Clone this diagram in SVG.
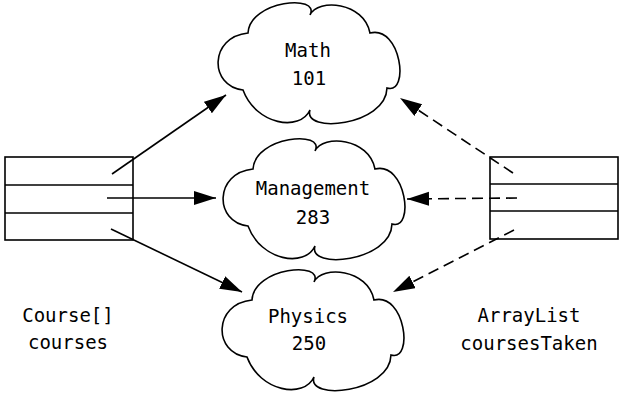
<svg xmlns="http://www.w3.org/2000/svg" width="624" height="393" viewBox="0 0 624 393">
<style>
.cloud{fill:#fff;stroke:#000;stroke-width:1.6}
.box{fill:#fff;stroke:#000;stroke-width:1.6}
.t{font-family:"DejaVu Sans Mono","Liberation Mono",monospace;font-size:19px;fill:#000;text-anchor:middle}
.c{stroke:#000;stroke-width:1.6;fill:none}
.d{stroke-dasharray:11 6}
</style>
<defs>
<path id="cl" d="M-60,-29 C-58,-62 13,-68 2,-47 C10,-64 56,-60 62,-29 C93,-37 102,33 79,26 C78,64 -6,72 2,48 C-8,70 -52,63 -65,28 C-99,24 -99,-25 -60,-29 Z"/>
<marker id="ah" markerUnits="userSpaceOnUse" markerWidth="24" markerHeight="16" refX="22" refY="7" orient="auto">
<path d="M0,0 L22,7 L0,14 Z" fill="#000"/>
</marker>
</defs>
<g id="math">
<use href="#cl" class="cloud" transform="translate(308,62)"/>
<text class="t" x="308" y="57">Math</text>
<text class="t" x="309" y="85">101</text>
</g>
<g id="management">
<use href="#cl" class="cloud" transform="translate(313,198)"/>
<text class="t" x="313" y="195">Management</text>
<text class="t" x="313" y="224">283</text>
</g>
<g id="physics">
<use href="#cl" class="cloud" transform="translate(312,329)"/>
<text class="t" x="308" y="323">Physics</text>
<text class="t" x="309" y="350">250</text>
</g>
<g id="courses">
<rect class="box" x="5" y="157" width="128" height="83"/>
<line class="c" x1="5" y1="185" x2="133" y2="185"/>
<line class="c" x1="5" y1="213" x2="133" y2="213"/>
<text class="t" x="68" y="322">Course[]</text>
<text class="t" x="68" y="349">courses</text>
</g>
<g id="coursesTaken">
<rect class="box" x="490" y="157" width="128" height="82"/>
<line class="c" x1="490" y1="184" x2="618" y2="184"/>
<line class="c" x1="490" y1="211" x2="618" y2="211"/>
<text class="t" x="529" y="322">ArrayList</text>
<text class="t" x="529" y="350">coursesTaken</text>
</g>
<g id="connectors">
<line class="c" x1="112" y1="174" x2="226" y2="95" marker-end="url(#ah)"/>
<line class="c" x1="107" y1="198" x2="216" y2="198" marker-end="url(#ah)"/>
<line class="c" x1="111" y1="229" x2="242" y2="292" marker-end="url(#ah)"/>
<line class="c d" x1="513" y1="173" x2="400" y2="98" marker-end="url(#ah)"/>
<line class="c d" x1="517" y1="198" x2="407" y2="199" marker-end="url(#ah)"/>
<line class="c d" x1="514" y1="230" x2="393" y2="292" marker-end="url(#ah)"/>
</g>
</svg>
